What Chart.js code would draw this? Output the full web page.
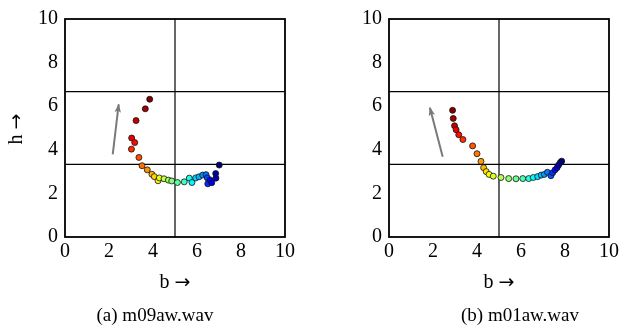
<!DOCTYPE html>
<html>
<head>
<meta charset="utf-8">
<script src="https://cdn.jsdelivr.net/npm/chart.js@4/dist/chart.umd.min.js"></script>
<style>
  body { margin: 0; background: #fff; width: 622px; height: 325px; position: relative; overflow: hidden; font-family: "Liberation Serif", serif; }
  canvas { position: absolute; top: 0; }
  .caption { position: absolute; top: 304px; line-height: 22px; font-size: 19px; color: #000; text-align: center; }
  .atitle { position: absolute; font-size: 20px; line-height: 24px; color: #000; text-align: center; white-space: nowrap; }
  .arr { font-family: "DejaVu Sans", sans-serif; font-size: 19px; }
</style>
</head>
<body>
<canvas id="chartA" width="311" height="325" style="left:0"></canvas>
<canvas id="chartB" width="311" height="325" style="left:311px"></canvas>
<div class="atitle" style="left:125px;top:269px;width:100px">b <span class="arr">→</span></div>
<div class="atitle" style="left:449px;top:269px;width:100px">b <span class="arr">→</span></div>
<div class="atitle" style="left:-35px;top:117px;width:100px;transform:rotate(-90deg)">h <span class="arr">→</span></div>
<div class="caption" style="left:55px;width:200px">(a) m09aw.wav</div>
<div class="caption" style="left:420px;width:200px">(b) m01aw.wav</div>
<script>
const ticksB = [0, 2, 4, 6, 8, 10];
const ticksH = [0, 2, 4, 6, 8, 10];
const gridB = [5];
const gridH = [10 / 3, 20 / 3];

// (a) m09aw.wav
const bA = [3.85, 3.65, 3.23, 3.03, 3.17, 3.02, 3.36, 3.50, 3.74, 3.95, 4.06, 4.23, 4.29, 4.50, 4.70, 4.85,
            5.11, 5.42, 5.65, 5.77, 5.94, 6.09, 6.26, 6.41, 6.47, 6.49, 6.59, 6.67, 6.86, 6.85, 7.01];
const hA = [6.32, 5.88, 5.34, 4.54, 4.33, 4.03, 3.65, 3.27, 3.08, 2.88, 2.77, 2.58, 2.71, 2.67, 2.61, 2.57,
            2.50, 2.53, 2.70, 2.50, 2.71, 2.76, 2.84, 2.86, 2.71, 2.44, 2.62, 2.49, 2.70, 2.91, 3.30];
const arrowBA = [2.17, 2.44];
const arrowHA = [3.79, 6.08];

// (b) m01aw.wav
const bB = [2.89, 2.92, 2.98, 3.05, 3.17, 3.36, 3.80, 4.00, 4.18, 4.30, 4.42, 4.55, 4.74, 5.09, 5.44,
            5.77, 6.08, 6.35, 6.56, 6.76, 6.92, 7.06, 7.20, 7.36, 7.44, 7.55, 7.64, 7.71, 7.79, 7.85];
const hB = [5.81, 5.44, 5.10, 4.92, 4.69, 4.47, 4.18, 3.82, 3.47, 3.18, 3.00, 2.87, 2.79, 2.73, 2.68,
            2.67, 2.68, 2.68, 2.73, 2.77, 2.84, 2.87, 2.97, 2.81, 2.95, 3.08, 3.18, 3.30, 3.42, 3.48];
const arrowBB = [2.44, 1.86];
const arrowHB = [3.68, 5.93];

const fontTicks = { family: "Liberation Serif", size: 20 };

function jet(t) {
  const c = v => Math.round(255 * Math.max(0, Math.min(1, v)));
  return "rgb(" + c(1.5 - Math.abs(4 * t - 3)) + "," + c(1.5 - Math.abs(4 * t - 2)) + "," + c(1.5 - Math.abs(4 * t - 1)) + ")";
}

const decor = {
  id: "decor",
  beforeDatasetsDraw(chart) {
    const { ctx, chartArea: a, scales: { x, y } } = chart;
    ctx.save();
    ctx.strokeStyle = "#000";
    ctx.lineWidth = 1.2;
    gridB.forEach(v => {
      const px = x.getPixelForValue(v);
      ctx.beginPath(); ctx.moveTo(px, a.top); ctx.lineTo(px, a.bottom); ctx.stroke();
    });
    gridH.forEach(v => {
      const py = y.getPixelForValue(v);
      ctx.beginPath(); ctx.moveTo(a.left, py); ctx.lineTo(a.right, py); ctx.stroke();
    });
    ctx.lineWidth = 1.8;
    ctx.strokeRect(a.left, a.top, a.right - a.left, a.bottom - a.top);
    ctx.restore();
  },
  afterDatasetsDraw(chart) {
    // arrow head at the end of the trend line
    const pts = chart.getDatasetMeta(0).data;
    const p0 = pts[0], p1 = pts[1];
    const ang = Math.atan2(p1.y - p0.y, p1.x - p0.x);
    const ctx = chart.ctx;
    ctx.save();
    ctx.translate(p1.x, p1.y);
    ctx.rotate(ang);
    ctx.fillStyle = "#7a7a7a";
    ctx.beginPath();
    ctx.moveTo(1, 0);
    ctx.lineTo(-8, -3.2);
    ctx.lineTo(-6, 0);
    ctx.lineTo(-8, 3.2);
    ctx.closePath();
    ctx.fill();
    ctx.restore();
  }
};

function makePanel(id, bVals, hVals, arrowB, arrowH, axisWidth, padRight) {
  const n = bVals.length;
  const points = bVals.map((b, i) => ({ x: b, y: hVals[i] }));
  const colors = bVals.map((b, i) => jet(1 - i / (n - 1)));
  const arrow = arrowB.map((b, i) => ({ x: b, y: arrowH[i] }));

  new Chart(document.getElementById(id), {
    type: "scatter",
    data: {
      datasets: [{
        type: "line",
        data: arrow,
        borderColor: "#7a7a7a",
        borderWidth: 2,
        pointRadius: 0,
        fill: false
      }, {
        data: points,
        backgroundColor: colors,
        borderColor: "#111",
        borderWidth: 0.8,
        pointRadius: 3
      }]
    },
    options: {
      responsive: false,
      animation: false,
      devicePixelRatio: 1,
      layout: { padding: { left: 0, top: 16, right: padRight, bottom: 31 } },
      plugins: { legend: { display: false }, tooltip: { enabled: false } },
      scales: {
        x: {
          type: "linear",
          min: 0,
          max: 10,
          afterBuildTicks: s => { s.ticks = ticksB.map(v => ({ value: v })); },
          afterFit: s => { s.height = 57; },
          grid: { display: false, drawTicks: false },
          border: { display: false },
          ticks: { color: "#000", font: fontTicks, padding: 3, maxRotation: 0 }
        },
        y: {
          type: "linear",
          min: 0,
          max: 10,
          afterBuildTicks: s => { s.ticks = ticksH.map(v => ({ value: v })); },
          afterFit: s => { s.width = axisWidth; },
          grid: { display: false, drawTicks: false },
          border: { display: false },
          ticks: { color: "#000", font: fontTicks, padding: 7 }
        }
      }
    },
    plugins: [decor]
  });
}

makePanel("chartA", bA, hA, arrowBA, arrowHA, 65, 26);
makePanel("chartB", bB, hB, arrowBB, arrowHB, 78, 13);
</script>
</body>
</html>
